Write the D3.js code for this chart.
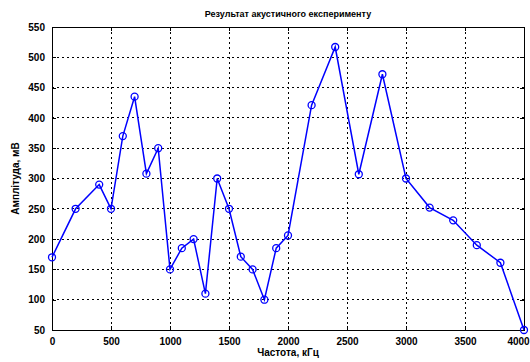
<!DOCTYPE html>
<html>
<head>
<meta charset="utf-8">
<script src="https://cdn.jsdelivr.net/npm/d3@7"></script>
<style>
  body { margin: 0; background: #fff; }
  text { font-family: "Liberation Sans", Arial, sans-serif; font-weight: bold; fill: #000; }
</style>
</head>
<body>
<script>
// data
var freq = [0, 200, 400, 500, 600, 700, 800, 900, 1000, 1100, 1200, 1300, 1400, 1500, 1600, 1700, 1800, 1900, 2000, 2200, 2400, 2600, 2800, 3000, 3200, 3400, 3600, 3800, 4000];
var amp  = [170, 250, 290, 250, 370, 435, 308, 350, 150, 185, 200, 110, 300, 250, 171, 150, 100, 185, 206, 421, 517, 307, 472, 300, 252, 231, 190, 161, 50];
var xTicks = [0, 500, 1000, 1500, 2000, 2500, 3000, 3500, 4000];
var yTicks = [50, 100, 150, 200, 250, 300, 350, 400, 450, 500, 550];

var data = freq.map(function(f, i) { return {f: f, a: amp[i]}; });

var margin = {top: 27, right: 6, bottom: 32, left: 52},
    width = 530 - margin.left - margin.right,
    height = 362 - margin.top - margin.bottom;

var svg = d3.select("body").append("svg")
    .attr("width", 530)
    .attr("height", 362);

var g = svg.append("g")
    .attr("transform", "translate(" + margin.left + "," + margin.top + ")");

var x = d3.scaleLinear().domain([0, 4000]).range([0, width]);
var y = d3.scaleLinear().domain([50, 550]).range([height, 0]);

// grid
g.selectAll(".vgrid").data(xTicks.slice(1, -1)).enter().append("line")
    .attr("x1", function(d) { return x(d); }).attr("x2", function(d) { return x(d); })
    .attr("y1", 0).attr("y2", height)
    .attr("stroke", "#000").attr("stroke-width", 1).attr("stroke-dasharray", "2,3")
    .attr("shape-rendering", "crispEdges");
g.selectAll(".hgrid").data(yTicks.slice(1, -1)).enter().append("line")
    .attr("y1", function(d) { return y(d); }).attr("y2", function(d) { return y(d); })
    .attr("x1", 0).attr("x2", width)
    .attr("stroke", "#000").attr("stroke-width", 1).attr("stroke-dasharray", "2,3")
    .attr("shape-rendering", "crispEdges");

// axes (ticks pointing inward, MATLAB style)
var fmt = d3.format("d");
var xb = g.append("g").attr("transform", "translate(0," + height + ")")
    .call(d3.axisBottom(x).tickValues(xTicks).tickFormat(fmt).tickSizeInner(-4).tickSizeOuter(0).tickPadding(8));
var xt = g.append("g")
    .call(d3.axisTop(x).tickValues(xTicks).tickSizeInner(-4).tickSizeOuter(0).tickFormat(""));
var yl = g.append("g")
    .call(d3.axisLeft(y).tickValues(yTicks).tickFormat(fmt).tickSizeInner(-4).tickSizeOuter(0).tickPadding(7));
var yr = g.append("g").attr("transform", "translate(" + width + ",0)")
    .call(d3.axisRight(y).tickValues(yTicks).tickSizeInner(-4).tickSizeOuter(0).tickFormat(""));

[xb, xt, yl, yr].forEach(function(a) {
    a.selectAll("path, line").attr("stroke", "#000").attr("shape-rendering", "crispEdges");
    a.selectAll("text").style("font-size", "10px").attr("fill", "#000");
});
// keep the last x label inside the window
xb.selectAll("text").filter(function(d) { return d === 4000; }).attr("dx", "-6");

// the curve
g.append("path")
    .datum(data)
    .attr("fill", "none")
    .attr("stroke", "#0000ff")
    .attr("stroke-width", 1.5)
    .attr("d", d3.line().x(function(d) { return x(d.f); }).y(function(d) { return y(d.a); }));

g.selectAll(".pt").data(data).enter().append("circle")
    .attr("cx", function(d) { return x(d.f); })
    .attr("cy", function(d) { return y(d.a); })
    .attr("r", 3.5)
    .attr("fill", "none")
    .attr("stroke", "#0000ff")
    .attr("stroke-width", 1.3);

// title and labels
svg.append("text")
    .attr("x", margin.left + width / 2).attr("y", 17)
    .style("text-anchor", "middle").style("font-size", "9px")
    .text("Результат акустичного експерименту");

svg.append("text")
    .attr("x", margin.left + width / 2).attr("y", 356)
    .style("text-anchor", "middle").style("font-size", "10px")
    .text("Частота, кГц");

svg.append("text")
    .attr("transform", "rotate(-90)")
    .attr("x", -(margin.top + height / 2)).attr("y", 19)
    .style("text-anchor", "middle").style("font-size", "10px")
    .text("Амплітуда, мВ");
</script>
</body>
</html>
